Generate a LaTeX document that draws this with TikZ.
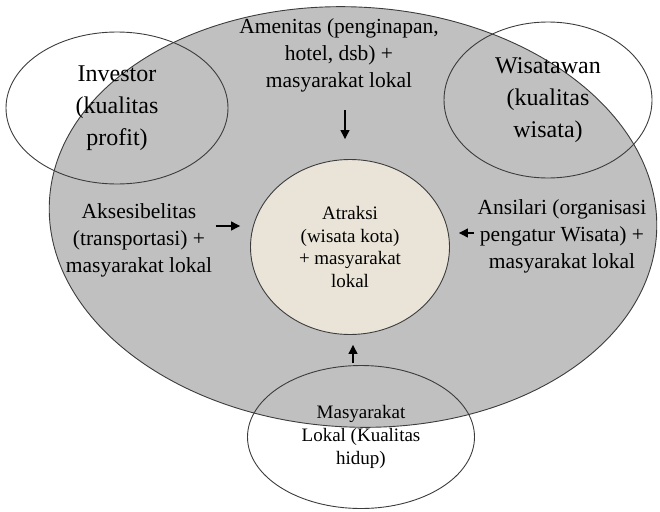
\documentclass[tikz,border=0pt]{standalone}
\usepackage{fontspec}
\setmainfont{Liberation Serif}
\usetikzlibrary{shapes.geometric, arrows.meta}

\definecolor{ringgray}{RGB}{192,192,192}
\definecolor{atraksifill}{RGB}{234,228,216}
\definecolor{linegray}{RGB}{60,60,60}

\begin{document}
\begin{tikzpicture}[x=1pt, y=-1pt, >={Triangle[length=9pt, width=9pt]},
    lingkar/.style={ellipse, draw=linegray, line width=0.9pt, align=center, inner sep=0pt},
    teks/.style={align=center, font=\fontsize{21.5}{27}\selectfont},
    panah/.style={->, line width=1.2pt}]
    \useasboundingbox (0,0) rectangle (660,511);

    % destinasi (lingkaran besar)
    \node[lingkar, fill=ringgray, minimum width=608pt, minimum height=420pt, rotate=-3] (destinasi) at (353,217) {};

    % atraksi di tengah
    \node[lingkar, fill=atraksifill, minimum width=199pt, minimum height=175pt,
        font=\fontsize{19}{22.5}\selectfont] (atraksi) at (350,247) {Atraksi\\(wisata kota)\\+ masyarakat\\lokal};

    % pemangku kepentingan
    \node[lingkar, minimum width=222pt, minimum height=152pt,
        font=\fontsize{24}{32}\selectfont] (investor) at (117,108) {Investor\\(kualitas\\profit)};
    \node[lingkar, minimum width=208pt, minimum height=156pt,
        font=\fontsize{24}{32}\selectfont] (wisatawan) at (548,100) {Wisatawan\\(kualitas\\wisata)};
    \node[lingkar, minimum width=227pt, minimum height=143pt,
        font=\fontsize{19}{23}\selectfont] (masyarakat) at (361,437) {Masyarakat\\Lokal (Kualitas\\hidup)};

    % komponen 4A
    \node[teks] (amenitas) at (339,55) {Amenitas (penginapan,\\hotel, dsb) +\\masyarakat lokal};
    \node[teks] (akses) at (139,240) {Aksesibelitas\\(transportasi) +\\masyarakat lokal};
    \node[teks] (ansilari) at (562,236) {Ansilari (organisasi\\pengatur Wisata) +\\masyarakat lokal};

    % panah ke atraksi
    \draw[panah] ([xshift=6pt, yshift=-15pt]amenitas.south) -- ([xshift=-5pt, yshift=20pt]atraksi.north);
    \draw[panah] ([yshift=14pt]akses.east) -- ([xshift=-10pt, yshift=21pt]atraksi.west);
    \draw[panah] ([yshift=3pt]ansilari.west) -- ([xshift=9pt, yshift=14pt]atraksi.east);
    \draw[panah] ([xshift=-8pt, yshift=2pt]masyarakat.north) -- ([xshift=3pt, yshift=-10pt]atraksi.south);
\end{tikzpicture}
\end{document}
